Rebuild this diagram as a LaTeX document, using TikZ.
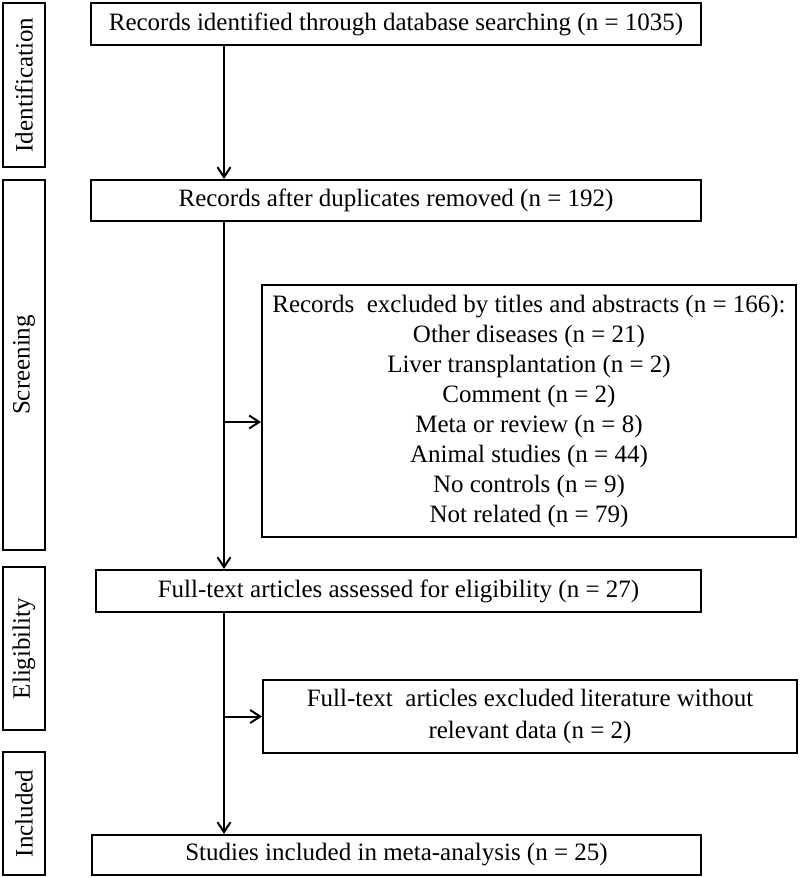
\documentclass[tikz,border=0pt]{standalone}
\usepackage{fontspec}
\setmainfont{Liberation Serif}
\usetikzlibrary{arrows.meta}
\tikzset{
	flowbox/.style={
			draw, line width=2pt, align=center, inner sep=0pt,
			font=\fontsize{25}{30}\selectfont
		},
	stagebox/.style={
			draw, line width=2.6pt, rotate=90, inner sep=0pt,
			font=\fontsize{25}{30}\selectfont
		},
	flow/.style={line width=2pt, -{Straight Barb[length=10pt,width=13pt]}}
}

\begin{document}
\begin{tikzpicture}[x=1pt,y=-1pt]
			\useasboundingbox (0,0) rectangle (800,878);
			
			% Stage labels on the left
			\node[stagebox, minimum width=164, minimum height=42] (ident) at (24, 85) {Identification};
			\node[stagebox, minimum width=370, minimum height=42] (screen) at (24, 365) {Screening};
			\node[stagebox, minimum width=163, minimum height=42] (elig) at (24, 648.5) {Eligibility};
			\node[stagebox, minimum width=123, minimum height=42] (inc) at (24, 813.5) {Included};
			
			% Main boxes
			\node[flowbox, minimum width=610, minimum height=42] (found) at (396, 24) {Records identified through database searching (n = 1035)};
			\node[flowbox, minimum width=610, minimum height=41] (dedup) at (396, 200.5) {Records after duplicates removed (n = 192)};
			\node[flowbox, minimum width=605, minimum height=42] (fulltext) at (398.5, 591) {Full-text articles assessed for eligibility (n = 27)};
			\node[flowbox, minimum width=609, minimum height=40] (studies) at (396.5, 855) {Studies included in meta-analysis (n = 25)};
			
			% Exclusion boxes
			\node[flowbox, minimum width=534, minimum height=252] (titleout) at (529, 411) {Records\ \ excluded by titles and abstracts (n = 166):\\
				Other diseases (n = 21)\\
				Liver transplantation (n = 2)\\
				Comment (n = 2)\\
				Meta or review (n = 8)\\
				Animal studies (n = 44)\\
				No controls (n = 9)\\
				Not related (n = 79)};
			\node[flowbox, minimum width=534, minimum height=73,
				font=\fontsize{25}{32}\selectfont] (fullout) at (530, 716.5) {Full-text\ \ articles excluded literature without\\
				relevant data (n = 2)};
			
			% Vertical line of the flow
			\coordinate (spine) at (224, 0);
			\draw[flow] (found.south -| spine) -- (dedup.north -| spine);
			\draw[flow] (dedup.south -| spine) -- (fulltext.north -| spine);
			\draw[flow] (fulltext.south -| spine) -- (studies.north -| spine);
			
			% Side arrows to the exclusions
			\coordinate (titlejoin) at ([yshift=-11pt]titleout.west);
			\draw[flow] (spine |- titlejoin) -- (titlejoin);
			\draw[flow] (spine |- fullout.west) -- (fullout.west);
			
		\end{tikzpicture}
\end{document}
